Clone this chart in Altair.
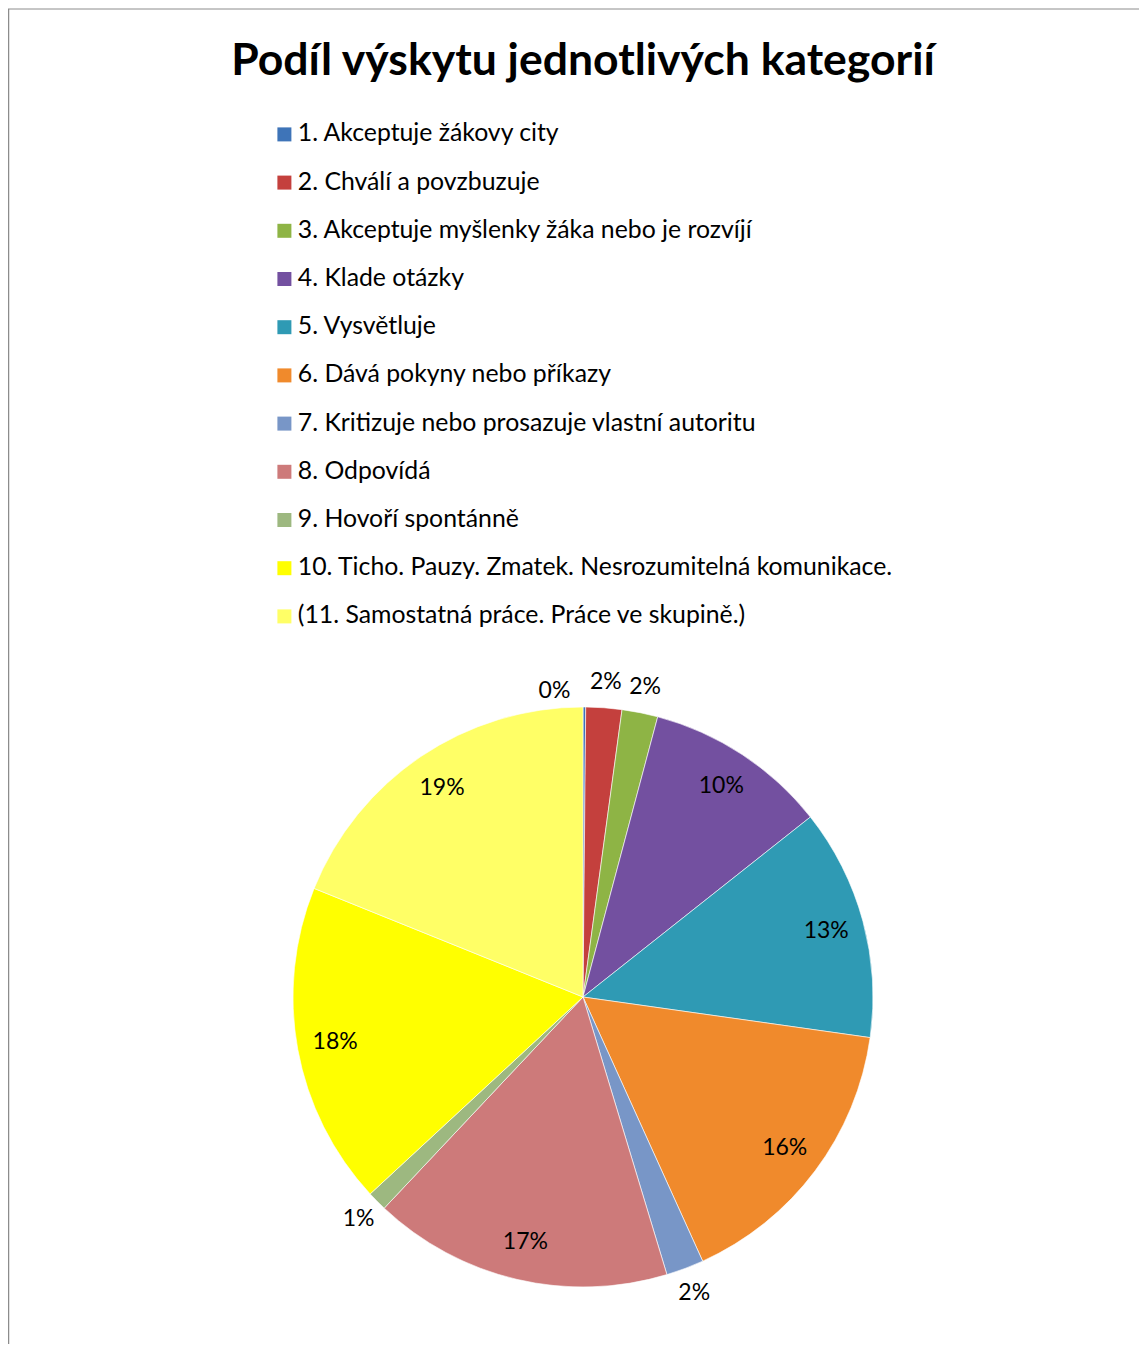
import altair as alt
import pandas as pd

TITLE = "Podíl výskytu jednotlivých kategorií"
categories = [
    "1. Akceptuje žákovy city",
    "2. Chválí a povzbuzuje",
    "3. Akceptuje myšlenky žáka nebo je rozvíjí",
    "4. Klade otázky",
    "5. Vysvětluje",
    "6. Dává pokyny nebo příkazy",
    "7. Kritizuje nebo prosazuje vlastní autoritu",
    "8. Odpovídá",
    "9. Hovoří spontánně",
    "10. Ticho. Pauzy. Zmatek. Nesrozumitelná komunikace.",
    "(11.  Samostatná práce. Práce ve skupině.)",
]
values = [0.15, 2.0, 2.0, 10.2, 12.9, 16.0, 2.1, 16.7, 1.1, 18.0, 18.9]
pct_labels = ["0%", "2%", "2%", "10%", "13%", "16%", "2%", "17%", "1%", "18%", "19%"]
colors = ["#3E74B8", "#C4403D", "#8EB445", "#7350A0", "#2F9AB4", "#F08A2C",
          "#7896C7", "#CD7A7A", "#9DB880", "#FFFF00", "#FFFF66"]

df = pd.DataFrame({
    "order": list(range(len(categories))),
    "category": categories,
    "value": values,
    "label": pct_labels,
})

W, H = 1131, 1336
CX, CY, R = 575, 989, 290
FONT = "Lato"

base = alt.Chart(df).encode(
    theta=alt.Theta("value:Q", stack=True),
    order=alt.Order("order:Q"),
)

pie = base.mark_arc(outerRadius=R, stroke="#ffffff", strokeWidth=1, strokeOpacity=0.6).encode(
    x=alt.value(CX), y=alt.value(CY),
    color=alt.Color(
        "category:N",
        sort=categories,
        scale=alt.Scale(domain=categories, range=colors),
        legend=alt.Legend(
            title=None, orient="none", legendX=264, legendY=114,
            symbolType="square", symbolSize=196, symbolStrokeWidth=0,
            labelFont=FONT, labelFontSize=24.8, labelColor="#000000",
            labelLimit=1000, rowPadding=22.2, labelOffset=1,
        ),
    ),
)

inside = base.transform_calculate(
    t="datum.value >= 5 ? datum.label : ''"
).mark_text(radius=252, font=FONT, fontSize=23, color="#000000").encode(
    x=alt.value(CX), y=alt.value(CY), text="t:N"
)

outside = base.transform_calculate(
    t="datum.value >= 1 && datum.value < 5 ? datum.label : ''"
).mark_text(radius=316, font=FONT, fontSize=23, color="#000000").encode(
    x=alt.value(CX), y=alt.value(CY), text="t:N"
)

zero = base.transform_calculate(
    t="datum.value < 1 ? datum.label : ''"
).mark_text(radius=312, dx=-30, dy=6, font=FONT, fontSize=23, color="#000000").encode(
    x=alt.value(CX), y=alt.value(CY), text="t:N"
)

title = alt.Chart(pd.DataFrame({"t": [TITLE]})).mark_text(
    font=FONT, fontSize=44.5, fontWeight="bold", color="#000000", baseline="alphabetic"
).encode(x=alt.value(575), y=alt.value(67), text="t:N")

frame_top = alt.Chart(pd.DataFrame({"k": [0]})).mark_rule(color="#8c8c8c", strokeWidth=1).encode(
    x=alt.value(0), x2=alt.value(W), y=alt.value(1)
)
frame_left = alt.Chart(pd.DataFrame({"k": [0]})).mark_rule(color="#8c8c8c", strokeWidth=1.5).encode(
    x=alt.value(0.5), y=alt.value(1), y2=alt.value(H)
)

chart = alt.layer(frame_top, frame_left, pie, inside, outside, zero, title).properties(
    width=W, height=H, padding=0, autosize=alt.AutoSizeParams(type="none")
).configure_view(strokeWidth=0)

chart.save("out.html", embed_options={"renderer": "svg", "actions": False})
